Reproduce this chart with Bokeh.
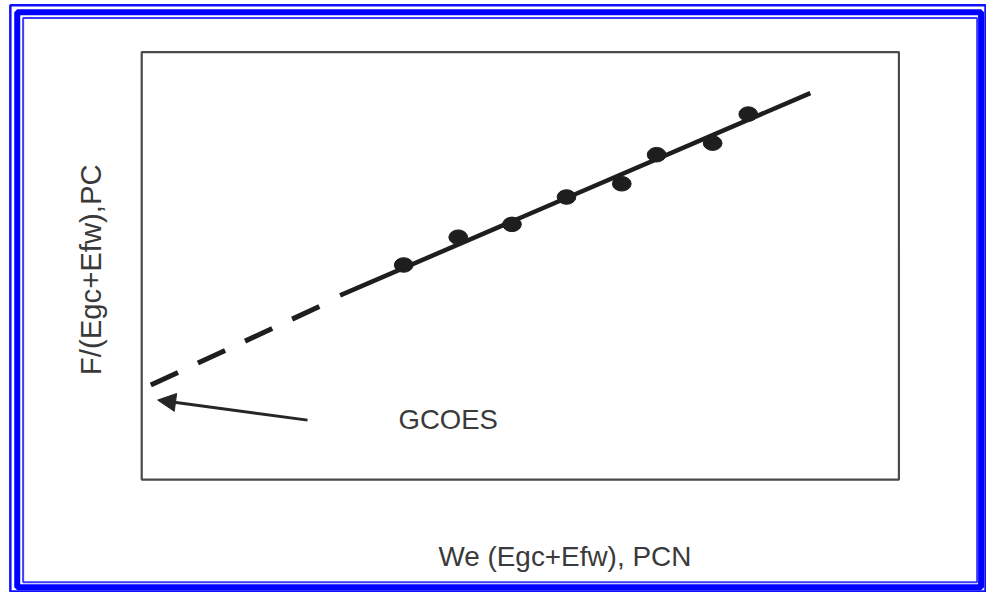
import math
from bokeh.plotting import figure
from bokeh.models import Range1d, Arrow, NormalHead
from bokeh.core.properties import value
from bokeh.embed import file_html
from bokeh.resources import INLINE

# ---- data (arbitrary units, plot box spans 0..10 on both axes) ----
pcn = [3.46, 4.18, 4.89, 5.61, 6.34, 6.80, 7.54, 8.01]
pc = [5.02, 5.67, 5.97, 6.61, 6.92, 7.60, 7.87, 8.55]
fit_x = [2.62, 8.83]
fit_y = [4.31, 9.04]
extrap_x = [0.12, 2.60]
extrap_y = [2.21, 4.26]
arrow_start = (2.19, 1.39)
arrow_end = (0.21, 1.86)
label_text = ["GCOES"]
x_label = "We (Egc+Efw), PCN"
y_label = "F/(Egc+Efw),PC"

# ---- layout: canvas maps the 1002x608 reference frame ----
W, H = 986, 592
RW, RH = 1002.0, 608.0
X0, XS = 143.5, 76.95   # reference x of data 0, ref px per unit
Y0, YS = 492.0, 43.9    # reference y of data 0, ref px per unit


def px(x):
    return (x - X0) / XS


def py(y):
    return (Y0 - y) / YS


p = figure(width=W, height=H, output_backend="svg", toolbar_location=None,
           x_axis_location=None, y_axis_location=None,
           x_range=Range1d(px(0), px(RW)),
           y_range=Range1d(py(RH), py(0)),
           min_border=0, tools="")
p.outline_line_color = None
p.grid.visible = False
p.background_fill_color = "white"
p.border_fill_color = "white"

# blue decorative frame (outer thin, thick, inner thin)
p.quad(left=[px(10)], right=[px(1001)], top=[py(5)], bottom=[py(607)],
       fill_alpha=0, line_color="#1010ff", line_width=2.5)
p.quad(left=[px(17)], right=[px(996.5)], top=[py(12)], bottom=[py(602.5)],
       fill_alpha=0, line_color="#0000ff", line_width=6)
p.quad(left=[px(23)], right=[px(992.5)], top=[py(18)], bottom=[py(597.5)],
       fill_alpha=0, line_color="#3a3aff", line_width=2)

# plot box
p.quad(left=[0], right=[10], bottom=[0], top=[10], fill_alpha=0,
       line_color="#4a4a4a", line_width=2.2)

# extrapolation (dashed) and fit (solid)
p.line(extrap_x, extrap_y, line_color="#1e1e1e", line_width=5,
       line_dash="30 22")
p.line(fit_x, fit_y, line_color="#1e1e1e", line_width=4.5)

# data points
p.ellipse(x=pcn, y=pc, width=19 / XS, height=15 / YS,
          fill_color="#1e1e1e", line_color="#1e1e1e")

# arrow pointing to intercept
p.add_layout(Arrow(x_start=arrow_start[0], y_start=arrow_start[1],
                   x_end=arrow_end[0], y_end=arrow_end[1],
                   line_color="#262626", line_width=3,
                   end=NormalHead(size=18, fill_color="#262626",
                                  line_color="#262626")))

font = value("Liberation Sans")
p.text(x=[px(455)], y=[py(430)], text=label_text, text_font=font,
       text_font_size=value("27.5px"), text_color="#3a3a3a",
       text_align="center", text_baseline="alphabetic")
p.text(x=[px(573.5)], y=[py(571.5)], text=[x_label], text_font=font,
       text_font_size=value("27.9px"), text_color="#3a3a3a",
       text_align="center", text_baseline="alphabetic")
p.text(x=[px(91)], y=[py(276.5)], text=[y_label], text_font=font,
       text_font_size=value("29.3px"), text_color="#3a3a3a",
       angle=math.pi / 2, text_align="center", text_baseline="alphabetic")

open("out.html", "w").write(file_html(p, INLINE))
